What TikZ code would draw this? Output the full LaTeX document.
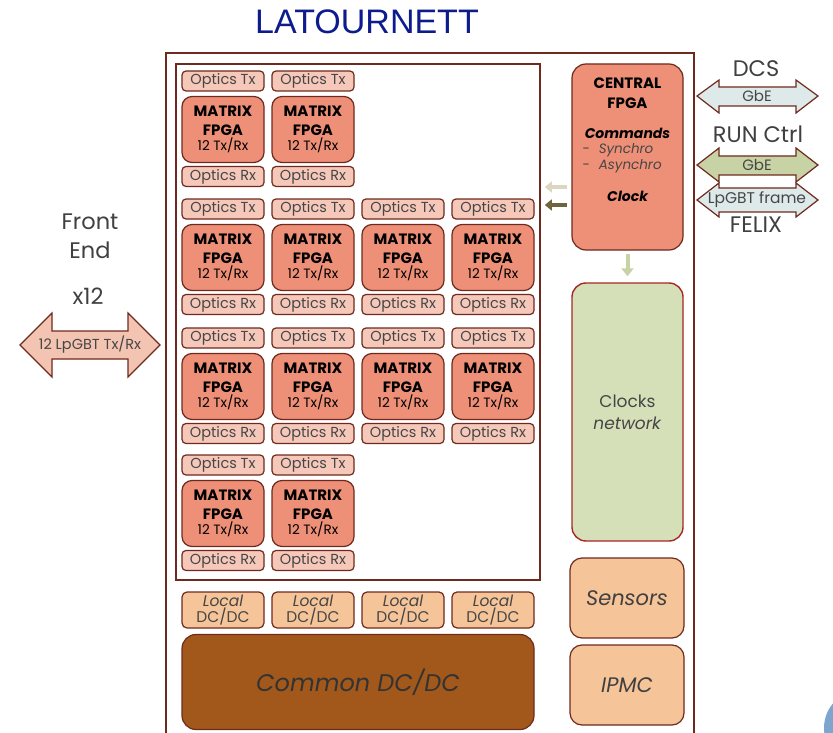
\documentclass[tikz,border=0pt]{standalone}
\usepackage{fontspec}
\setmainfont{Poppins}
\newfontfamily\titlefont{Liberation Sans}
\usetikzlibrary{arrows.meta}
\definecolor{brd}{RGB}{110,42,30}
\definecolor{salmon}{RGB}{238,143,119}
\definecolor{optfill}{RGB}{246,200,186}
\definecolor{peach}{RGB}{245,196,152}
\definecolor{commonfill}{RGB}{163,88,27}
\definecolor{clkfill}{RGB}{214,224,184}
\definecolor{clkbrd}{RGB}{165,40,35}
\definecolor{ltblue}{RGB}{222,234,234}
\definecolor{ltgreen}{RGB}{200,211,165}
\definecolor{feside}{RGB}{244,196,178}
\definecolor{paleola}{RGB}{220,214,192}
\definecolor{darkola}{RGB}{110,100,64}
\definecolor{titleblue}{RGB}{13,27,140}
\definecolor{txtgray}{RGB}{70,70,70}
\definecolor{logoblue}{RGB}{125,165,205}
\newcommand{\fs}[1]{\fontsize{#1}{#1}\selectfont}

\begin{document}
\begin{tikzpicture}[x=1pt, y=-1pt,
    optbox/.style={draw=brd, fill=optfill, line width=1.2pt, rounded corners=4pt,
        minimum width=82pt, minimum height=20pt, inner sep=0pt, text=txtgray, font=\fs{14.5}},
    fpgabox/.style={draw=brd, fill=salmon, line width=1.2pt, rounded corners=10pt,
        minimum width=82pt, minimum height=66pt, inner sep=0pt, align=center,
        font=\fontsize{15}{18.5}\selectfont\bfseries},
    ldcbox/.style={draw=brd, fill=peach, line width=1.2pt, rounded corners=5pt,
        minimum width=82pt, minimum height=36pt, inner sep=0pt, align=center,
        font=\fontsize{15.5}{16}\selectfont, text=txtgray},
    sidebox/.style={draw=brd, fill=peach, line width=1.2pt, rounded corners=12pt,
        minimum width=114pt, minimum height=80pt, inner sep=0pt, font=\fs{21}\itshape, text=black!75},
    fatarrow/.style={draw=brd, line width=1.2pt, line join=miter},
    label/.style={font=\fs{22.5}, text=black!75, inner sep=0pt}]

    \useasboundingbox (0,0) rectangle (833,733);

    \node[font=\titlefont\fs{34}, text=titleblue] (title) at (367,22) {LATOURNETT};

    % board and matrix area
    \draw[draw=brd, line width=2.5pt] (166,760) -- (166,53) -- (694,53) -- (694,760);
    \node[draw=brd, line width=1.6pt, minimum width=364pt, minimum height=516pt, inner sep=0pt] (mtxarea) at (358,322) {};

    \foreach \r/\y/\n in {1/81/2, 2/209/4, 3/338/4, 4/465/2} {
        \foreach \c in {1,...,\n} {
            \pgfmathsetmacro\x{133+90*\c}
            \node[optbox] (tx\r\c) at (\x,\y) {Optics Tx};
            \node[fpgabox] (fpga\r\c) at (\x,\y+48.5) {MATRIX\\FPGA\\[-3pt]{\mdseries\fs{13.5}12 Tx/Rx}};
            \node[optbox] (rx\r\c) at (\x,\y+95.5) {Optics Rx};
        }
    }

    % power
    \foreach \c in {1,...,4}
        \node[ldcbox] (ldc\c) at (133+90*\c,610) {\itshape Local\\DC/DC};
    \node[draw=brd, fill=commonfill, line width=1.2pt, rounded corners=14pt, minimum width=352pt,
        minimum height=95pt, font=\fs{24}\itshape, text=black!80] (common) at (358,682) {Common DC/DC};

    % central fpga and clocks
    \node[draw=brd, fill=salmon, line width=1.2pt, rounded corners=14pt, minimum width=111pt,
        minimum height=186pt] (cfpga) at (627.5,157) {};
    \node[font=\fontsize{15}{19.5}\selectfont\bfseries, align=center] (cfpgatxt) at (627.5,93) {CENTRAL\\FPGA};
    \node[font=\fs{14}\bfseries\itshape] (cmdtxt) at (627.5,133) {Commands};
    \node[font=\fontsize{13.5}{16.5}\selectfont\itshape, text=txtgray, align=left] (synctxt) at (622,158)
        {-\hspace{9pt}Synchro\\-\hspace{9pt}Asynchro};
    \node[font=\fs{14}\bfseries\itshape] (clktxt) at (627.5,196) {Clock};

    \node[draw=clkbrd, fill=clkfill, line width=1.4pt, rounded corners=14pt, minimum width=111pt,
        minimum height=258pt, align=center, font=\fontsize{17}{22}\selectfont, text=txtgray] (clknet) at (627.5,412)
        {Clocks\\\textit{network}};

    \node[sidebox] (sensors) at (627,598) {Sensors};
    \node[sidebox] (ipmc) at (627,685) {IPMC};

    \coordinate (pa) at (0,187);
    \coordinate (pb) at (0,205);
    \draw[-{Triangle[length=7pt,width=11pt]}, line width=3.5pt, paleola, shorten <=4pt, shorten >=4pt] (cfpga.west |- pa) -- (mtxarea.east |- pa);
    \draw[-{Triangle[length=7pt,width=11pt]}, line width=3.5pt, darkola, shorten <=4pt, shorten >=4pt] (cfpga.west |- pb) -- (mtxarea.east |- pb);
    \draw[-{Triangle[length=8pt,width=12pt]}, line width=4pt, ltgreen, shorten <=3pt, shorten >=6pt] (cfpga.south) -- (clknet.north);

    % front end link
    \node[label] (front) at (90,222) {Front};
    \node[label] (fend) at (90,250) {End};
    \node[label] (x12) at (88,296) {x12};
    \draw[fatarrow, fill=feside] (20,345) -- (52,313) -- (52,331) -- (128,331) -- (128,313) -- (160,345)
        -- (128,377) -- (128,359) -- (52,359) -- (52,377) -- cycle;
    \node[font=\fs{14.5}, text=txtgray] (felink) at (90,345) {12 LpGBT Tx/Rx};

    % external links
    \node[label] (dcs) at (756,69) {DCS};
    \draw[fatarrow, fill=ltblue] (697,96) -- (719,80) -- (719,87) -- (796,87) -- (796,80) -- (818,96)
        -- (796,113) -- (796,106) -- (719,106) -- (719,113) -- cycle;
    \node[font=\fs{15}, text=txtgray] (dcslink) at (757,96) {GbE};

    \node[label] (runctrl) at (758,134) {RUN Ctrl};
    \draw[fatarrow, fill=ltgreen] (697,165) -- (719,148) -- (719,156) -- (796,156) -- (796,148) -- (818,165)
        -- (796,182) -- (796,175) -- (719,175) -- (719,182) -- cycle;
    \node[font=\fs{15}, text=txtgray] (runlink) at (757,165) {GbE};

    \draw[fatarrow, fill=ltblue] (697,200) -- (719,183) -- (719,188) -- (796,188) -- (796,183) -- (818,200)
        -- (796,217) -- (796,212) -- (719,212) -- (719,217) -- cycle;
    \node[font=\fs{15.5}, text=txtgray] (felixlink) at (757,200) {LpGBT frame};
    \node[label] (felix) at (756,225) {FELIX};

    \fill[logoblue] (862,728) circle (38);
\end{tikzpicture}
\end{document}
